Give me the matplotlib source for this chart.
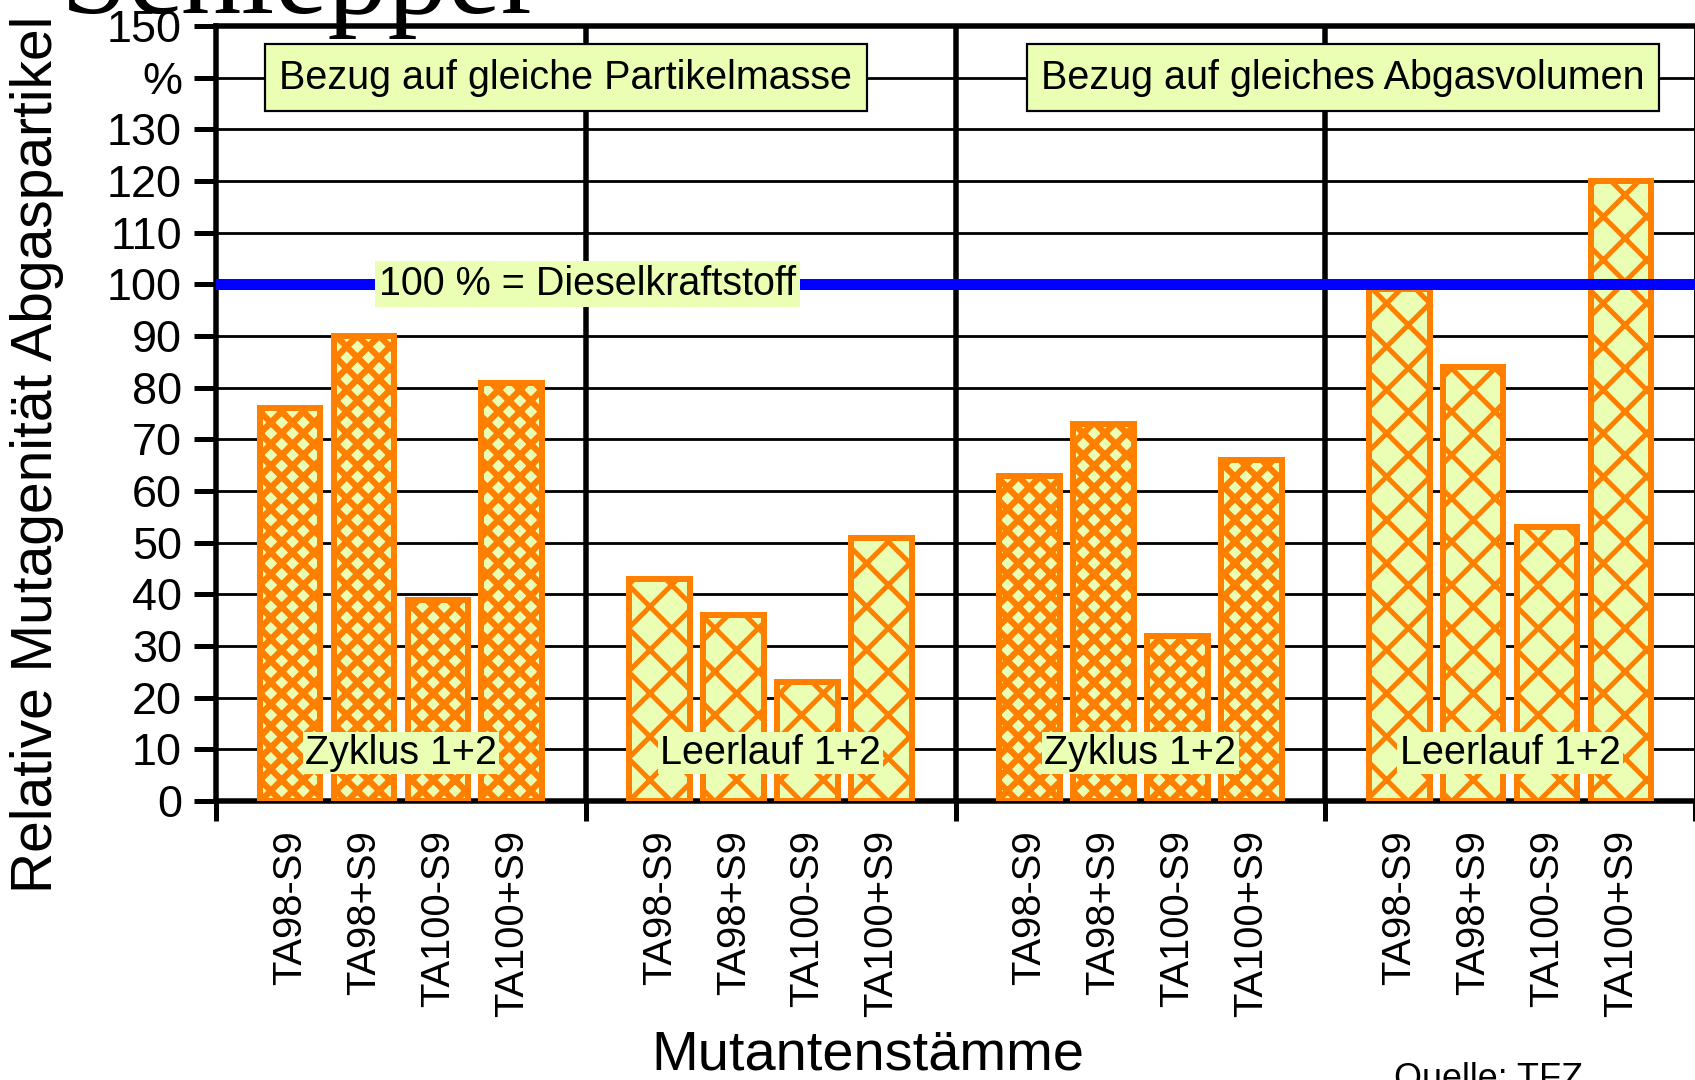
import numpy as np
import matplotlib.pyplot as plt

# Werte (Relative Mutagenität in %, Diesel = 100 %)
strains = ['TA98-S9', 'TA98+S9', 'TA100-S9', 'TA100+S9']
masse_zyklus = [76, 90, 39, 81]
masse_leerlauf = [43, 36, 23, 51]
volumen_zyklus = [63, 73, 32, 66]
volumen_leerlauf = [99, 84, 53, 120]
group_labels = ['Zyklus 1+2', 'Leerlauf 1+2', 'Zyklus 1+2', 'Leerlauf 1+2']
y_ticks = [0, 10, 20, 30, 40, 50, 60, 70, 80, 90, 100, 110, 120, 130, 140, 150]
y_ticklabels = ['0', '10', '20', '30', '40', '50', '60', '70', '80', '90',
                '100', '110', '120', '130', '%', '150']
diesel_ref = 100

ORANGE = '#FF8000'
YELLOW = '#EBFFB4'
DPI = 260
W, H = 1695, 1080


def px(v):
    # Pixel -> Punkt
    return v * 72.0 / DPI


plt.rcParams['font.family'] = ['Liberation Sans', 'DejaVu Sans']
ann_size = px(39.5)

fig = plt.figure(figsize=(W / DPI, H / DPI), dpi=DPI)
ax = fig.add_axes([216 / W, 1 - 801 / H, 1 - 216 / W, (801 - 26) / H])

groups = [masse_zyklus, masse_leerlauf, volumen_zyklus, volumen_leerlauf]
hatches = ['xxxx', 'xx', 'xxxx', 'xx']
hatch_widths = [px(6.3), px(5), px(6.3), px(5)]
slot = 5  # 4 Balken + Lücke je Gruppe
positions = []
for g, vals in enumerate(groups):
    x = g * slot + np.arange(1, len(vals) + 1)
    positions.extend(x)
    plt.rcParams['hatch.linewidth'] = hatch_widths[g]
    bars = ax.bar(x, vals, width=0.82, color=YELLOW, edgecolor=ORANGE,
                  linewidth=px(6), hatch=hatches[g], zorder=3)
    for b in bars:
        if hasattr(b, 'set_hatch_linewidth'):
            b.set_hatch_linewidth(hatch_widths[g])
    ax.text(g * slot + 2.5, 9.3, group_labels[g], ha='center', va='center',
            fontsize=ann_size, zorder=6,
            bbox=dict(boxstyle='square,pad=0.06', fc=YELLOW, ec='none'))

# Diesel-Referenzlinie
ax.axhline(diesel_ref, color='#0000FF', lw=px(11), zorder=4)
ax.text(5.03, diesel_ref, '100 % = Dieselkraftstoff', ha='center', va='center',
        fontsize=ann_size, zorder=6,
        bbox=dict(boxstyle='square,pad=0.1', fc=YELLOW, ec='none'))

for xc, txt in [(4.73, 'Bezug auf gleiche Partikelmasse'),
                (15.24, 'Bezug auf gleiches Abgasvolumen')]:
    ax.text(xc, 140, txt, ha='center', va='center', fontsize=ann_size, zorder=6,
            bbox=dict(boxstyle='square,pad=0.36', fc=YELLOW, ec='black', lw=px(2.2)))

# Trennlinien zwischen Gruppen
for sep in [5, 10, 15]:
    ax.axvline(sep, color='black', lw=px(5.5), zorder=2)

ax.set_xlim(0, 20)
ax.set_ylim(0, 150)
ax.set_yticks(y_ticks)
ax.set_yticklabels(y_ticklabels)
ax.yaxis.grid(True, color='black', lw=px(2.8), zorder=1)
ax.set_axisbelow(True)

ax.set_xticks([0, 5, 10, 15, 20])
ax.set_xticklabels([])
ax.set_xticks(positions, strains * 4, minor=True, rotation=90)
ax.tick_params(axis='x', which='major', length=px(20), width=px(5), direction='out')
ax.tick_params(axis='x', which='minor', length=0, pad=px(29), labelsize=px(40))
ax.tick_params(axis='y', length=px(22), width=px(5), pad=px(12), labelsize=px(45))

for side in ['left', 'bottom', 'top']:
    ax.spines[side].set_linewidth(px(5.5))
ax.spines['right'].set_linewidth(px(2))

fig.text(61 / W, 1 - 13 / H, 'Schlepper', family=['Liberation Serif', 'DejaVu Serif'],
         fontsize=px(120), ha='left', va='baseline')
fig.text(37 / W, 1 - 893 / H, 'Relative Mutagenität Abgaspartikel', rotation=90,
         fontsize=px(57), ha='center', va='bottom')
fig.text(868 / W, 1 - 1070 / H, 'Mutantenstämme', fontsize=px(56),
         ha='center', va='baseline')
fig.text(1394 / W, 1 - 1062 / H, 'Quelle: TFZ', fontsize=px(36),
         ha='left', va='top')

fig.savefig('out.png', dpi=DPI)
